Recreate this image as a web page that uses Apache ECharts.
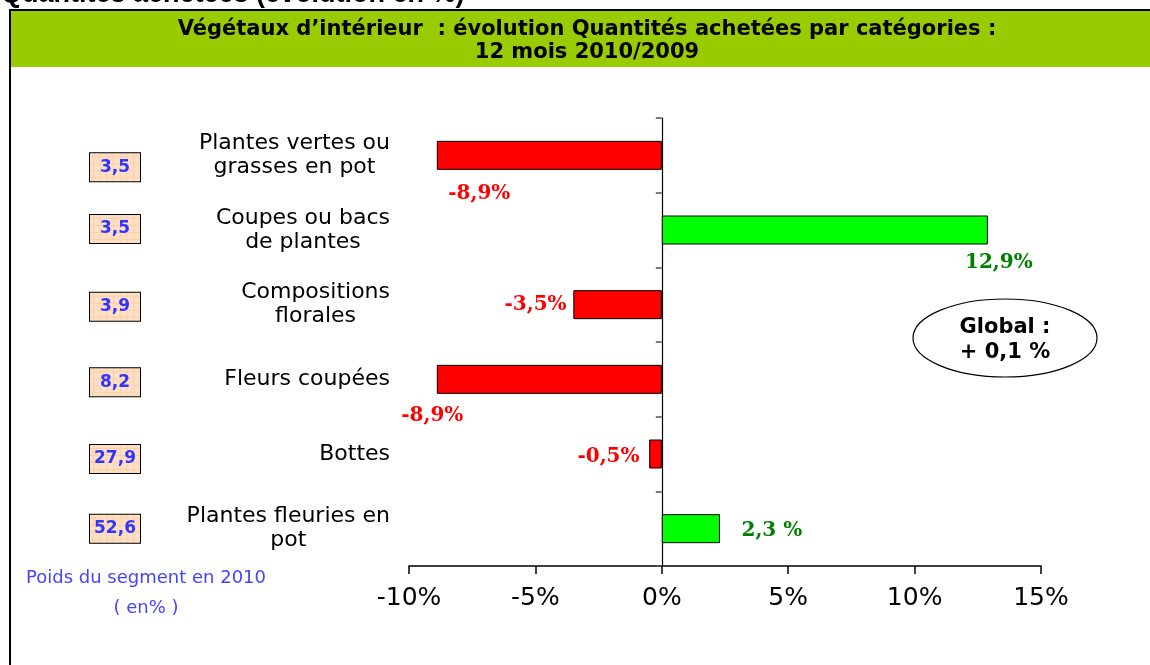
<!DOCTYPE html>
<html>
<head>
<meta charset="utf-8">
<script src="https://cdn.jsdelivr.net/npm/echarts@6/dist/echarts.min.js"></script>
<style>
html, body { margin: 0; padding: 0; background: #fff; }
#chart { width: 1150px; height: 665px; }
</style>
</head>
<body>
<div id="chart"></div>
<script>
// catégories, du haut vers le bas
var categories = ['Plantes vertes ou\ngrasses en pot', 'Coupes ou bacs\nde plantes', 'Compositions\nflorales', 'Fleurs coupées', 'Bottes', 'Plantes fleuries en\npot'];
// évolution des quantités achetées 2010/2009 (%)
var evolution = [-8.9, 12.9, -3.5, -8.9, -0.5, 2.3];
var evolutionLabels = ['-8,9%', '12,9%', '-3,5%', '-8,9%', '-0,5%', '2,3 %'];
// poids du segment en 2010 (%)
var poids = ['3,5', '3,5', '3,9', '8,2', '27,9', '52,6'];
// axe des x
var xMin = -10, xMax = 15, xStep = 5;

// décalage des étiquettes de valeur (par rapport au centre de la barre)
var labelNudge = [[-70, 38], [174, 33], [-82, 0], [-117, 36], [-47, 3], [81, 2]];
// décalage vertical des cases "poids"
var boxShift = [12, -1, 2, 3, 5, 0];

// fond quadrillé des cases
function boxPattern() {
    var c = document.createElement('canvas');
    c.width = 52; c.height = 28;
    var ctx = c.getContext('2d');
    ctx.fillStyle = '#FDE0C4';
    ctx.fillRect(0, 0, 52, 28);
    ctx.strokeStyle = '#F8D0AC';
    ctx.lineWidth = 1;
    for (var x = 3.5; x < 52; x += 7) { ctx.beginPath(); ctx.moveTo(x, 0); ctx.lineTo(x, 28); ctx.stroke(); }
    for (var y = 3.5; y < 28; y += 7) { ctx.beginPath(); ctx.moveTo(0, y); ctx.lineTo(52, y); ctx.stroke(); }
    return c;
}

var chart = echarts.init(document.getElementById('chart'));

var option = {
    animation: false,
    grid: {
        left: 409,
        right: 109,
        top: 118,
        bottom: 99,
        containLabel: false,
        outerBoundsMode: 'none'
    },
    graphic: [
        {
            type: 'text',
            left: 1,
            top: -19,
            style: {
                text: 'Quantités achetées (évolution en %)',
                font: 'bold 27px "Liberation Sans", Arial',
                fill: '#000'
            }
        },
        {
            type: 'rect',
            z: -1,
            shape: {x: 10, y: 10, width: 1170, height: 720},
            style: {fill: '#fff', stroke: '#000', lineWidth: 2}
        },
        {
            type: 'rect',
            z: 0,
            shape: {x: 11, y: 11, width: 1160, height: 56},
            style: {fill: '#99CC00'}
        },
        {
            type: 'text',
            x: 587,
            y: 41,
            style: {
                text: 'Végétaux d\u2019intérieur  : évolution Quantités achetées par catégories :\n12 mois 2010/2009',
                font: 'bold 21px "DejaVu Sans"',
                fill: '#000',
                align: 'center',
                verticalAlign: 'middle',
                lineHeight: 23
            }
        },
        {
            type: 'ellipse',
            shape: {cx: 1005, cy: 338, rx: 92, ry: 39},
            style: {fill: '#fff', stroke: '#000', lineWidth: 1.2}
        },
        {
            type: 'text',
            x: 1005,
            y: 340,
            style: {
                text: 'Global :\n+ 0,1 %',
                font: 'bold 21px "DejaVu Sans"',
                fill: '#000',
                align: 'center',
                verticalAlign: 'middle',
                lineHeight: 25
            }
        },
        {
            type: 'text',
            x: 146,
            y: 593,
            style: {
                text: 'Poids du segment en 2010\n\n( en% )',
                font: '18px "DejaVu Sans"',
                fill: '#4444FF',
                align: 'center',
                verticalAlign: 'middle',
                lineHeight: 15
            }
        }
    ],
    xAxis: {
        type: 'value',
        min: xMin,
        max: xMax,
        interval: xStep,
        splitLine: {show: false},
        axisLine: {show: true, lineStyle: {color: '#000', width: 1.5}},
        axisTick: {show: true, length: 8, lineStyle: {color: '#000', width: 1.5}},
        axisLabel: {
            margin: 20,
            fontFamily: 'DejaVu Sans',
            fontSize: 25,
            color: '#000',
            formatter: function (v) { return v + '%'; }
        }
    },
    yAxis: [
        {
            type: 'category',
            inverse: true,
            data: categories,
            axisLine: {show: true, onZero: true, lineStyle: {color: '#000', width: 1.2}},
            axisTick: {show: true, length: 6, lineStyle: {color: '#555', width: 1.5}},
            axisLabel: {
                margin: 19,
                align: 'right',
                formatter: function (v) {
                    return v.split('\n').map(function (l) { return '{c|' + l + '}'; }).join('\n');
                },
                rich: {
                    c: {
                        align: 'center',
                        fontFamily: 'DejaVu Sans',
                        fontSize: 22,
                        lineHeight: 24,
                        color: '#000'
                    }
                }
            }
        },
        {
            type: 'category',
            inverse: true,
            position: 'left',
            data: poids.map(function (p, i) {
                var s = boxShift[i];
                return {
                    value: p,
                    textStyle: {padding: [Math.max(0, 2 * s), 0, Math.max(0, -2 * s), 0]}
                };
            }),
            axisLine: {show: false, onZero: false},
            axisTick: {show: false},
            axisLabel: {
                margin: 269,
                align: 'left',
                formatter: function (v) { return '{b|' + v + '}'; },
                rich: {
                    b: {
                        align: 'center',
                        fontFamily: 'DejaVu Sans',
                        fontWeight: 'bold',
                        fontSize: 17,
                        color: '#3333FF',
                        width: 50,
                        height: 20,
                        lineHeight: 20,
                        padding: [4, 0, 4, 0],
                        backgroundColor: {image: boxPattern()},
                        borderColor: '#000',
                        borderWidth: 2
                    }
                }
            }
        }
    ],
    series: [
        {
            type: 'bar',
            yAxisIndex: 0,
            barWidth: 29,
            itemStyle: {borderColor: '#000', borderWidth: 1},
            label: {
                show: true,
                position: 'inside',
                fontFamily: 'DejaVu Serif',
                fontWeight: 'bold',
                fontSize: 20,
                formatter: function (p) { return evolutionLabels[p.dataIndex]; }
            },
            data: evolution.map(function (v, i) {
                return {
                    value: v,
                    itemStyle: {color: v < 0 ? '#FF0000' : '#00FF00'},
                    label: {color: v < 0 ? '#FF0000' : '#008000', offset: labelNudge[i]}
                };
            })
        }
    ]
};

chart.setOption(option);
</script>
</body>
</html>
